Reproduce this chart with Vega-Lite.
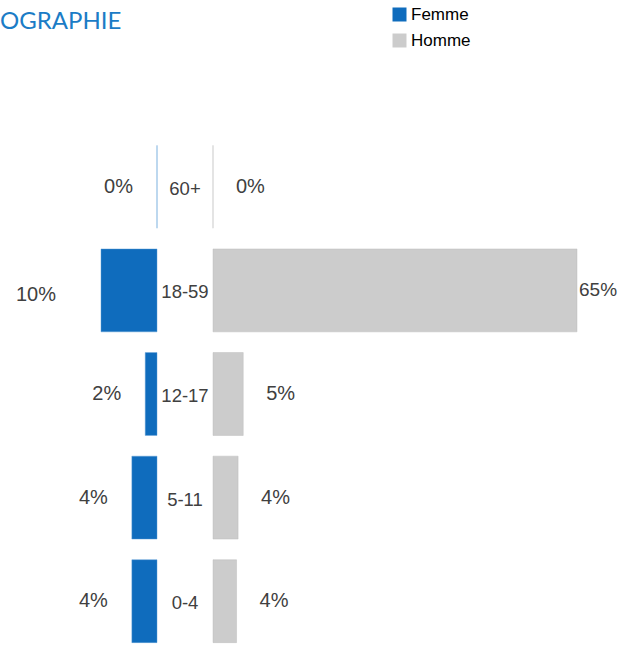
{
  "$schema": "https://vega.github.io/schema/vega-lite/v6.json",
  "padding": {"left": 0, "right": 0, "top": 6, "bottom": 0},
  "bounds": "flush",
  "title": {"text": "OGRAPHIE", "anchor": "start", "frame": "group", "offset": -28, "fontSize": 24, "font": "Lato", "fontWeight": "normal", "color": "#1b7cc6"},
  "data": {"values": [
    {"age": "60+", "sexe": "Femme", "pct": 0},
    {"age": "18-59", "sexe": "Femme", "pct": 0.10},
    {"age": "12-17", "sexe": "Femme", "pct": 0.021},
    {"age": "5-11", "sexe": "Femme", "pct": 0.0449},
    {"age": "0-4", "sexe": "Femme", "pct": 0.0449},
    {"age": "60+", "sexe": "Homme", "pct": 0},
    {"age": "18-59", "sexe": "Homme", "pct": 0.65},
    {"age": "12-17", "sexe": "Homme", "pct": 0.054},
    {"age": "5-11", "sexe": "Homme", "pct": 0.0448},
    {"age": "0-4", "sexe": "Homme", "pct": 0.042}
  ]},
  "spacing": 0,
  "config": {
    "view": {"stroke": null},
    "concat": {"spacing": 0},
    "text": {"font": "Liberation Sans", "color": "#404040"},
    "legend": {
      "orient": "none", "legendX": 391, "legendY": -129, "title": null,
      "symbolType": "square", "symbolSize": 196, "symbolStrokeWidth": 0,
      "labelFont": "Liberation Sans", "labelFontSize": 17, "labelColor": "#000000",
      "labelOffset": 3, "rowPadding": 8
    }
  },
  "hconcat": [
    {
      "width": 157, "height": 518,
      "transform": [{"filter": "datum.sexe == 'Femme'"}],
      "encoding": {
        "y": {"field": "age", "type": "nominal", "sort": ["60+", "18-59", "12-17", "5-11", "0-4"], "axis": null, "scale": {"paddingInner": 0.2, "paddingOuter": 0.1}},
        "x": {"field": "pct", "type": "quantitative", "axis": null, "scale": {"domain": [0, 0.2804], "reverse": true}}
      },
      "layer": [
        {
          "mark": {"type": "bar", "stroke": "#5b9bd5", "strokeWidth": 1, "strokeOpacity": 0.45},
          "encoding": {
            "color": {"field": "sexe", "type": "nominal", "scale": {"domain": ["Femme", "Homme"], "range": ["#0f6cbd", "#cccccc"]}}
          }
        },
        {
          "transform": [{"filter": "datum.pct < 0.08"}],
          "mark": {"type": "text", "align": "right", "baseline": "middle", "dx": -24, "fontSize": 20},
          "encoding": {"text": {"field": "pct", "type": "quantitative", "format": ".0%"}}
        },
        {
          "transform": [{"filter": "datum.pct >= 0.08"}],
          "mark": {"type": "text", "align": "right", "baseline": "middle", "dx": -45, "dy": 5, "fontSize": 20},
          "encoding": {"text": {"field": "pct", "type": "quantitative", "format": ".0%"}}
        }
      ]
    },
    {
      "width": 56, "height": 518,
      "transform": [{"filter": "datum.sexe == 'Femme'"}],
      "mark": {"type": "text", "align": "center", "baseline": "middle", "fontSize": 18.5, "dy": 2},
      "encoding": {
        "y": {"field": "age", "type": "nominal", "sort": ["60+", "18-59", "12-17", "5-11", "0-4"], "axis": null, "scale": {"paddingInner": 0.2, "paddingOuter": 0.1}},
        "text": {"field": "age", "type": "nominal"}
      }
    },
    {
      "width": 407, "height": 518,
      "transform": [{"filter": "datum.sexe == 'Homme'"}],
      "encoding": {
        "y": {"field": "age", "type": "nominal", "sort": ["60+", "18-59", "12-17", "5-11", "0-4"], "axis": null, "scale": {"paddingInner": 0.2, "paddingOuter": 0.1}},
        "x": {"field": "pct", "type": "quantitative", "axis": null, "scale": {"domain": [0, 0.7268]}}
      },
      "layer": [
        {
          "mark": {"type": "bar", "stroke": "#bbbbbb", "strokeWidth": 1, "strokeOpacity": 0.45},
          "encoding": {
            "color": {"field": "sexe", "type": "nominal", "scale": {"domain": ["Femme", "Homme"], "range": ["#0f6cbd", "#cccccc"]}}
          }
        },
        {
          "transform": [{"filter": "datum.pct < 0.5"}],
          "mark": {"type": "text", "align": "left", "baseline": "middle", "dx": 23, "fontSize": 20},
          "encoding": {"text": {"field": "pct", "type": "quantitative", "format": ".0%"}}
        },
        {
          "transform": [{"filter": "datum.pct >= 0.5"}],
          "mark": {"type": "text", "align": "left", "baseline": "middle", "dx": 2, "fontSize": 19},
          "encoding": {"text": {"field": "pct", "type": "quantitative", "format": ".0%"}}
        }
      ]
    }
  ]
}
